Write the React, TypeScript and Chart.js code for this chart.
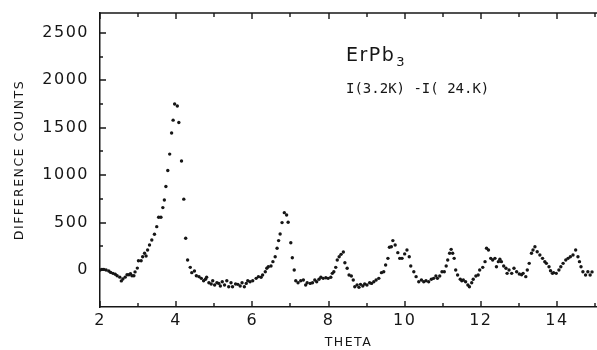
import { useEffect, useRef } from "react";
import { Chart, registerables } from "chart.js";
Chart.register(...registerables);

const thetas = [
  2.00, 2.05, 2.10, 2.16, 2.23, 2.28, 2.34, 2.40, 2.45, 2.52,
  2.56, 2.60, 2.66, 2.71, 2.76, 2.80, 2.84, 2.89, 2.92, 2.98,
  3.01, 3.08, 3.12, 3.17, 3.21, 3.25, 3.30, 3.36, 3.43, 3.49,
  3.54, 3.60, 3.65, 3.69, 3.73, 3.78, 3.83, 3.88, 3.92, 3.96,
  4.03, 4.07, 4.14, 4.20, 4.25, 4.30, 4.37, 4.41, 4.48, 4.53,
  4.60, 4.66, 4.72, 4.77, 4.80, 4.86, 4.92, 4.96, 5.01, 5.07,
  5.12, 5.16, 5.21, 5.27, 5.33, 5.38, 5.44, 5.48, 5.56, 5.62,
  5.68, 5.73, 5.79, 5.84, 5.88, 5.94, 6.01, 6.10, 6.16, 6.23,
  6.27, 6.34, 6.38, 6.42, 6.49, 6.54, 6.60, 6.65, 6.69, 6.73,
  6.78, 6.84, 6.90, 6.94, 7.01, 7.05, 7.10, 7.14, 7.20, 7.27,
  7.34, 7.40, 7.44, 7.52, 7.58, 7.64, 7.69, 7.75, 7.80, 7.86,
  7.93, 7.99, 8.06, 8.10, 8.14, 8.19, 8.23, 8.28, 8.33, 8.39,
  8.43, 8.49, 8.54, 8.60, 8.65, 8.69, 8.75, 8.80, 8.84, 8.90,
  8.95, 9.01, 9.08, 9.13, 9.19, 9.25, 9.32, 9.39, 9.45, 9.50,
  9.56, 9.60, 9.65, 9.69, 9.75, 9.82, 9.87, 9.93, 10.00, 10.06,
  10.12, 10.16, 10.24, 10.30, 10.37, 10.44, 10.50, 10.56, 10.63, 10.70,
  10.76, 10.82, 10.86, 10.92, 10.98, 11.04, 11.09, 11.13, 11.18, 11.22,
  11.26, 11.30, 11.34, 11.39, 11.46, 11.50, 11.54, 11.60, 11.66, 11.70,
  11.76, 11.80, 11.87, 11.93, 11.97, 12.05, 12.11, 12.15, 12.20, 12.26,
  12.31, 12.37, 12.41, 12.46, 12.50, 12.54, 12.60, 12.66, 12.69, 12.74,
  12.81, 12.87, 12.94, 13.01, 13.07, 13.11, 13.18, 13.22, 13.27, 13.33,
  13.37, 13.42, 13.48, 13.55, 13.62, 13.68, 13.72, 13.79, 13.83, 13.88,
  13.91, 13.98, 14.05, 14.10, 14.16, 14.23, 14.29, 14.35, 14.42, 14.49,
  14.55, 14.59, 14.63, 14.68, 14.75, 14.81, 14.87, 14.92,
];

const differenceCounts = [
  0, 7, 7, 0, -10, -25, -35, -45, -60, -75,
  -115, -95, -75, -50, -50, -40, -60, -60, -20, 20,
  98, 98, 140, 176, 148, 211, 264, 317, 377, 457,
  556, 556, 658, 739, 880, 1049, 1222, 1444, 1580, 1750,
  1730, 1555, 1150, 747, 335, 105, 28, -28, -10, -60,
  -70, -88, -113, -98, -77, -134, -148, -113, -158, -134,
  -141, -169, -123, -158, -113, -176, -134, -176, -148, -151,
  -169, -134, -176, -141, -113, -123, -113, -88, -70, -77,
  -53, -18, 18, 35, 42, 88, 140, 229, 310, 380,
  500, 605, 580, 504, 288, 130, 0, -113, -134, -113,
  -106, -158, -134, -141, -134, -106, -123, -98, -77, -88,
  -81, -88, -77, -35, -18, 28, 105, 140, 165, 190,
  77, 18, -53, -63, -106, -176, -158, -183, -151, -169,
  -148, -158, -134, -141, -123, -106, -88, -28, -18, 53,
  123, 240, 246, 310, 264, 183, 123, 123, 170, 211,
  140, 42, -18, -70, -123, -106, -123, -113, -123, -98,
  -88, -63, -88, -63, -18, -18, 42, 105, 176, 218,
  176, 123, 0, -53, -98, -113, -106, -123, -158, -176,
  -134, -98, -63, -53, 0, 28, 88, 229, 211, 123,
  105, 123, 35, 88, 113, 88, 42, 18, -35, 0,
  -35, 18, -18, -42, -50, -35, -70, 0, 70, 176,
  211, 246, 193, 158, 123, 88, 70, 35, -7, -35,
  -28, -35, 0, 35, 70, 105, 123, 140, 158, 211,
  140, 88, 35, -18, -53, -18, -53, -20,
];

const xTickLabels = [2, 4, 6, 8, 10, 12, 14];
const xMinorTicks = [3, 5, 7, 9, 11, 13, 15];
const yTickLabels = [0, 500, 1000, 1500, 2000, 2500];
const yMinorTicks = [250, 750, 1250, 1750, 2250];

const xTitle = "THETA";
const yTitle = "DIFFERENCE COUNTS";
const compoundName = "ErPb";
const compoundSubscript = "3";
const differenceLabel = "I(3.2K) -I( 24.K)";

const INK = "#161616";
const FONT = '"DejaVu Sans", sans-serif';

export default function App() {
  const canvasRef = useRef<HTMLCanvasElement | null>(null);

  useEffect(() => {
    document.body.style.margin = "0";
    const canvas = canvasRef.current;
    if (!canvas) return;

    const decorPlugin = {
      id: "decor",
      beforeDraw(chart: any) {
        chart.ctx.letterSpacing = "1.5px";
      },
      afterDraw(chart: any) {
        const { ctx, chartArea, scales } = chart;
        const { left, right, top, bottom } = chartArea;
        const xs = scales.x;
        const ys = scales.y;
        ctx.save();
        ctx.strokeStyle = INK;
        ctx.lineWidth = 1.4;
        ctx.beginPath();
        ctx.moveTo(left, top);
        ctx.lineTo(right, top);
        ctx.stroke();

        ctx.lineWidth = 1.4;
        ctx.beginPath();
        const xAll = [...xTickLabels.map((v) => [v, 6]), ...xMinorTicks.map((v) => [v, 4])];
        for (const [v, len] of xAll) {
          const px = Math.round(xs.getPixelForValue(v));
          ctx.moveTo(px, bottom);
          ctx.lineTo(px, bottom - len);
          ctx.moveTo(px, top);
          ctx.lineTo(px, top + len);
        }
        const yAll = [...yTickLabels.map((v) => [v, 6]), ...yMinorTicks.map((v) => [v, 3])];
        for (const [v, len] of yAll) {
          const py = Math.round(ys.getPixelForValue(v));
          ctx.moveTo(left, py);
          ctx.lineTo(left + len, py);
        }
        ctx.stroke();

        ctx.fillStyle = INK;
        ctx.textBaseline = "alphabetic";
        ctx.textAlign = "left";
        ctx.letterSpacing = "1.5px";
        ctx.font = `19px ${FONT}`;
        const nameX = left + 246;
        ctx.fillText(compoundName, nameX, top + 48);
        const w = ctx.measureText(compoundName).width;
        ctx.font = `13px ${FONT}`;
        ctx.fillText(compoundSubscript, nameX + w + 1, top + 53);
        ctx.letterSpacing = "0px";
        ctx.font = `14px "DejaVu Sans Mono", monospace`;
        ctx.fillText(differenceLabel, nameX, top + 80);
        ctx.restore();
        ctx.letterSpacing = "0px";
      },
    };

    const chart = new Chart(canvas, {
      type: "scatter",
      data: {
        datasets: [
          {
            data: thetas.map((t, i) => ({ x: t, y: differenceCounts[i] })),
            backgroundColor: INK,
            borderWidth: 0,
            pointRadius: 1.7,
            showLine: false,
          },
        ],
      },
      options: {
        responsive: false,
        animation: false,
        layout: { autoPadding: false, padding: { top: 13, left: 0, right: 0, bottom: 0 } },
        plugins: { legend: { display: false }, tooltip: { enabled: false } },
        scales: {
          x: {
            type: "linear",
            min: 2,
            max: 15.05,
            grid: { display: false, drawTicks: false },
            border: { display: true, color: INK, width: 1.5 },
            afterBuildTicks: (scale: any) => {
              scale.ticks = xTickLabels.map((v) => ({ value: v }));
            },
            afterFit: (scale: any) => {
              scale.height = 43;
              scale.paddingLeft = 0;
              scale.paddingRight = 0;
            },
            ticks: {
              color: INK,
              font: { family: FONT, size: 16 },
              padding: 4,
              maxRotation: 0,
              autoSkip: false,
              callback: (v: any) => String(v),
            },
            title: {
              display: true,
              text: xTitle,
              color: INK,
              font: { family: FONT, size: 12.5 },
              padding: { top: 0, bottom: 0 },
            },
          },
          y: {
            type: "linear",
            min: -390,
            max: 2710,
            grid: { display: false, drawTicks: false },
            border: { display: true, color: INK, width: 1.5 },
            afterBuildTicks: (scale: any) => {
              scale.ticks = yTickLabels.map((v) => ({ value: v }));
            },
            afterFit: (scale: any) => {
              scale.width = 100;
              scale.paddingTop = 0;
              scale.paddingBottom = 0;
            },
            ticks: {
              color: INK,
              font: { family: FONT, size: 16 },
              padding: 11,
              autoSkip: false,
              callback: (v: any) => String(v),
            },
            title: {
              display: true,
              text: yTitle,
              color: INK,
              font: { family: FONT, size: 12.5 },
              padding: { top: 12, bottom: 0 },
            },
          },
        },
      },
      plugins: [decorPlugin],
    });

    return () => chart.destroy();
  }, []);

  return (
    <div style={{ width: 597, height: 350, background: "#fff" }}>
      <canvas ref={canvasRef} width={597} height={350} style={{ display: "block" }} />
    </div>
  );
}
